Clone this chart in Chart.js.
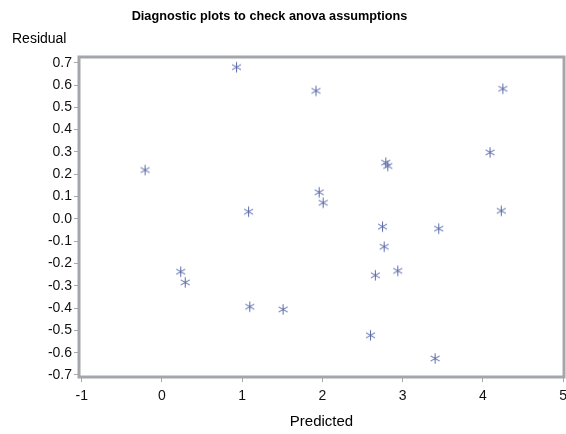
<!DOCTYPE html>
<html><head><meta charset="utf-8">
<script src="https://cdn.jsdelivr.net/npm/chart.js@4.4.1/dist/chart.umd.min.js"></script>
<style>html,body{margin:0;padding:0;background:#fff;}#wrap{width:566px;height:434px;}</style>
</head><body><div id="wrap"><canvas id="c" width="566" height="434"></canvas></div>
<script>
const chartTitle = "Diagnostic plots to check anova assumptions";
const xTitle = "Predicted";
const yTitle = "Residual";
const predicted = [-0.21, 0.93, 1.92, 4.25, 4.09, 2.79, 2.815, 1.96, 2.01, 1.08, 4.23, 2.75, 3.45, 2.77, 0.234, 0.29, 2.66, 2.94, 1.095, 1.51, 2.60, 3.405];
const residual  = [0.219, 0.68, 0.574, 0.583, 0.298, 0.252, 0.237, 0.119, 0.072, 0.032, 0.036, -0.035, -0.044, -0.125, -0.237, -0.285, -0.253, -0.233, -0.394, -0.406, -0.522, -0.626];
const xTicks = [-1, 0, 1, 2, 3, 4, 5];
const yTicks = [-0.7, -0.6, -0.5, -0.4, -0.3, -0.2, -0.1, 0.0, 0.1, 0.2, 0.3, 0.4, 0.5, 0.6, 0.7];

const FONT = "'Liberation Sans', Arial, sans-serif";
const markerColor = '#5868a8';
const frameColor = '#a3a6aa';

// six-armed asterisk marker
const mk = document.createElement('canvas');
mk.width = 13; mk.height = 13;
(function(){
  const g = mk.getContext('2d');
  g.strokeStyle = markerColor; g.lineWidth = 1;
  const cx = 6.5, cy = 6.5, r = 5.2;
  g.beginPath();
  for (let k = 0; k < 3; k++) {
    const a = Math.PI / 2 + k * Math.PI / 3;
    g.moveTo(cx + r * Math.cos(a), cy - r * Math.sin(a));
    g.lineTo(cx - r * Math.cos(a), cy + r * Math.sin(a));
  }
  g.stroke();
})();

const points = predicted.map((x, i) => ({x: x, y: residual[i]}));

const framePlugin = {
  id: 'frame',
  afterDraw(chart) {
    const {ctx, chartArea: a} = chart;
    ctx.save();
    ctx.strokeStyle = frameColor; ctx.lineWidth = 3;
    ctx.strokeRect(a.left, a.top, a.right - a.left, a.bottom - a.top);
    ctx.fillStyle = '#000';
    ctx.textBaseline = 'middle';
    ctx.textAlign = 'center';
    ctx.font = "bold 12.7px " + FONT;
    ctx.fillText(chartTitle, 269.5, 16);
    ctx.font = "15px " + FONT;
    ctx.fillText(xTitle, (a.left + a.right) / 2, 421.5);
    ctx.textAlign = 'left';
    ctx.font = "14px " + FONT;
    ctx.fillText(yTitle, 12, 39);
    ctx.restore();
  }
};

new Chart(document.getElementById('c'), {
  type: 'scatter',
  data: { datasets: [{ data: points, pointStyle: mk, pointRadius: 6, pointHoverRadius: 6 }] },
  options: {
    responsive: false, animation: false,
    layout: { autoPadding: false, padding: { top: 57, right: 2, left: 0, bottom: 0 } },
    plugins: { legend: { display: false }, tooltip: { enabled: false }, title: { display: false } },
    scales: {
      x: {
        type: 'linear', min: -1.034, max: 5.012,
        afterBuildTicks: s => { s.ticks = xTicks.map(v => ({value: v})); },
        afterFit: s => { s.height = 57; s.paddingLeft = 0; s.paddingRight = 0; },
        grid: { drawOnChartArea: false, drawTicks: true, tickLength: 5, color: frameColor, lineWidth: 1 },
        border: { display: false },
        ticks: { color: '#111', font: { family: FONT, size: 14 }, padding: 6, maxRotation: 0, autoSkip: false,
                 callback: v => String(v) }
      },
      y: {
        type: 'linear', min: -0.709, max: 0.7256,
        afterBuildTicks: s => { s.ticks = yTicks.map(v => ({value: v})); },
        afterFit: s => { s.width = 79; s.paddingTop = 0; s.paddingBottom = 0; },
        grid: { drawOnChartArea: false, drawTicks: true, tickLength: 5, color: frameColor, lineWidth: 1 },
        border: { display: false },
        ticks: { color: '#111', font: { family: FONT, size: 14 }, padding: 2, autoSkip: false,
                 callback: v => Number(v).toFixed(1) }
      }
    }
  },
  plugins: [framePlugin]
});
</script></body></html>
